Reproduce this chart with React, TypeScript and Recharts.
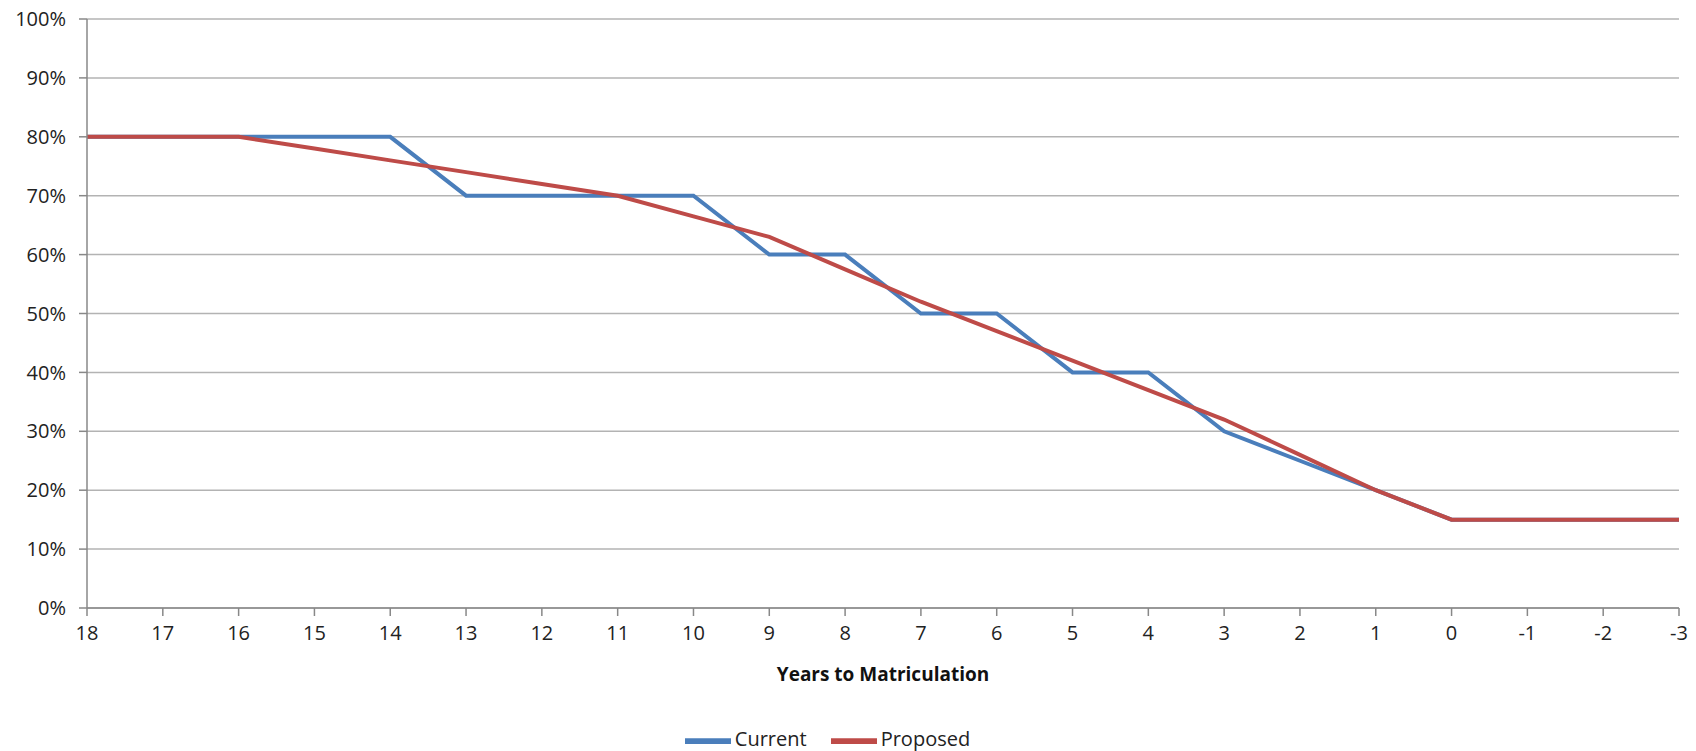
import { CartesianGrid, Legend, Line, LineChart, XAxis, YAxis } from 'recharts'

const years = ['18', '17', '16', '15', '14', '13', '12', '11', '10', '9', '8', '7', '6', '5', '4', '3', '2', '1', '0', '-1', '-2', '-3']
const current = [80, 80, 80, 80, 80, 70, 70, 70, 70, 60, 60, 50, 50, 40, 40, 30, 25, 20, 15, 15, 15, 15]
const proposed = [80, 80, 80, 78, 76, 74, 72, 70, 66.5, 63, 57.5, 52, 47, 42, 37, 32, 26, 20, 15, 15, 15, 15]
const yTicks = [0, 10, 20, 30, 40, 50, 60, 70, 80, 90, 100]

const data = years.map((year, i) => ({ year, current: current[i], proposed: proposed[i] }))

const font = '"Open Sans", sans-serif'
const axisColor = '#888888'

export default function App() {
  return (
    <div style={{ position: 'absolute', left: 0, top: 0, background: '#fff', fontFamily: font }}>
      <LineChart width={1696} height={751} data={data} margin={{ top: 19, right: 17, left: 0, bottom: 0 }}>
        <CartesianGrid vertical={false} stroke="#b3b3b3" strokeWidth={1.5} />
        <XAxis
          dataKey="year"
          height={110}
          stroke={axisColor}
          strokeWidth={1.5}
          tickSize={8}
          tickMargin={10}
          tick={{ fill: '#222', fontSize: 20, fontFamily: font }}
          interval={0}
          label={{
            value: 'Years to Matriculation',
            position: 'insideTop',
            offset: 60,
            fill: '#111',
            fontSize: 19,
            fontWeight: 'bold',
            fontFamily: font,
          }}
        />
        <YAxis
          width={87}
          domain={[0, 100]}
          ticks={yTicks}
          tickFormatter={(v) => `${v}%`}
          stroke={axisColor}
          strokeWidth={1.5}
          tickSize={8}
          tickMargin={13}
          tick={{ fill: '#222', fontSize: 20, fontFamily: font }}
          interval={0}
        />
        <Legend
          verticalAlign="bottom"
          height={33}
          iconSize={46}
          wrapperStyle={{ fontSize: 20, fontFamily: font, color: '#222' }}
          formatter={(value) => <span style={{ color: '#222', marginRight: 14 }}>{value}</span>}
        />
        <Line
          name="Current"
          dataKey="current"
          stroke="#4a7ebb"
          strokeWidth={4}
          dot={false}
          legendType="plainline"
          isAnimationActive={false}
        />
        <Line
          name="Proposed"
          dataKey="proposed"
          stroke="#be4b48"
          strokeWidth={4}
          dot={false}
          legendType="plainline"
          isAnimationActive={false}
        />
      </LineChart>
    </div>
  )
}
